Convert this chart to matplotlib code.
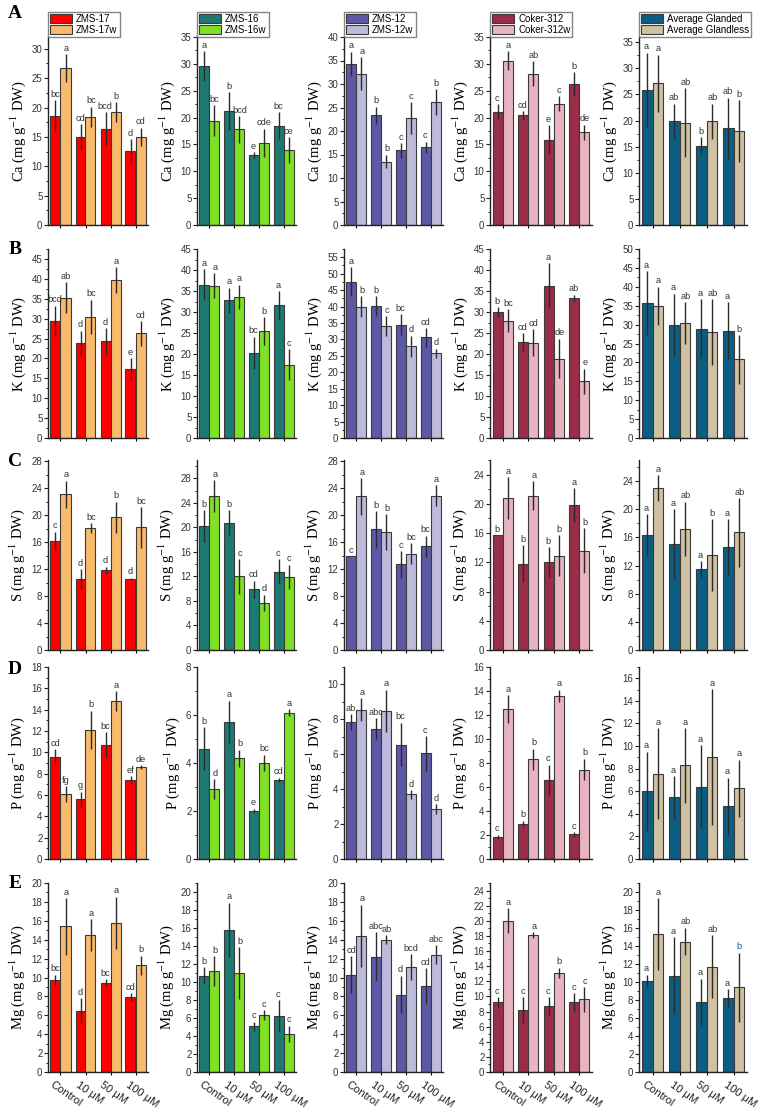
import matplotlib
matplotlib.use('Agg')
import matplotlib.pyplot as plt
import matplotlib.transforms as mtrans
from matplotlib.ticker import MultipleLocator, AutoMinorLocator

plt.rcParams['font.family'] = ['Liberation Sans', 'DejaVu Sans']
plt.rcParams['mathtext.fontset'] = 'stix'

treatments = ['Control', '10 μM', '50 μM', '100 μM']
names_g = ['ZMS-17', 'ZMS-16', 'ZMS-12', 'Coker-312', 'Average Glanded']
names_w = ['ZMS-17w', 'ZMS-16w', 'ZMS-12w', 'Coker-312w', 'Average Glandless']
colors_g = ['#ff0000', '#1d7a72', '#5e59a6', '#9a2d48', '#0b5e82']
colors_w = ['#f8bb6c', '#80e022', '#bdbadc', '#e8b4c2', '#cfc1a1']
elements = ['Ca', 'K', 'S', 'P', 'Mg']
panels = ['A', 'B', 'C', 'D', 'E']

# ---- Ca ----
ca_g = [[18.6, 15.0, 16.4, 12.6], [29.6, 21.2, 13.0, 18.5], [34.3, 23.3, 15.9, 16.5],
        [21.1, 20.4, 15.9, 26.3], [25.9, 19.9, 15.2, 18.5]]
ca_g_err = [[2.6, 2.2, 2.8, 2.05], [2.8, 3.5, 0.6, 2.45], [2.55, 1.85, 1.55, 1.2],
            [1.4, 0.8, 2.7, 2.2], [7.1, 3.35, 1.6, 5.85]]
ca_w = [[26.7, 18.4, 19.2, 15.0], [19.4, 17.8, 15.3, 14.0], [32.2, 13.5, 22.8, 26.1],
        [30.6, 28.2, 22.6, 17.3], [27.1, 19.6, 19.9, 18.0]]
ca_w_err = [[2.4, 1.75, 1.75, 1.55], [2.9, 2.5, 2.6, 2.4], [3.55, 1.45, 3.35, 2.75],
            [1.8, 2.35, 1.35, 1.4], [5.5, 6.6, 3.35, 5.85]]
ca_g_let = [['bc', 'cd', 'bcd', 'd'], ['a', 'b', 'e', 'bc'], ['a', 'b', 'c', 'c'],
            ['c', 'cd', 'e', 'b'], ['a', 'ab', 'b', 'ab']]
ca_w_let = [['a', 'bc', 'b', 'cd'], ['bc', 'bcd', 'cde', 'ce'], ['a', 'b', 'c', 'b'],
            ['a', 'ab', 'c', 'de'], ['a', 'ab', 'ab', 'b']]

# ---- K ----
k_g = [[29.5, 23.8, 24.3, 17.4], [36.5, 32.8, 20.3, 31.6], [47.5, 40.2, 34.5, 30.6],
       [30.0, 22.8, 36.3, 33.3], [35.7, 29.9, 28.9, 28.4]]
k_g_err = [[3.8, 3.15, 3.35, 2.6], [3.65, 3.0, 3.8, 3.4], [4.4, 3.0, 3.2, 2.85],
           [1.1, 2.2, 5.25, 0.8], [8.4, 8.3, 7.85, 7.45]]
k_w = [[35.3, 30.5, 39.7, 26.3], [36.3, 33.6, 25.5, 17.5], [40.0, 34.0, 27.9, 25.8],
       [27.9, 22.7, 18.9, 13.5], [35.0, 30.4, 28.0, 20.8]]
k_w_err = [[3.8, 4.25, 3.25, 3.1], [2.9, 2.9, 3.25, 3.65], [3.2, 3.05, 3.2, 1.4],
           [2.75, 3.25, 4.7, 3.0], [5.05, 5.6, 8.8, 6.45]]
k_g_let = [['bcd', 'd', 'd', 'e'], ['a', 'a', 'bc', 'a'], ['a', 'b', 'bc', 'cd'],
           ['b', 'cd', 'a', 'ab'], ['a', 'a', 'a', 'a']]
k_w_let = [['ab', 'bc', 'a', 'cd'], ['a', 'a', 'b', 'c'], ['b', 'c', 'd', 'd'],
           ['bc', 'cd', 'de', 'e'], ['a', 'ab', 'ab', 'b']]

# ---- S ----
s_g = [[16.2, 10.5, 11.8, 10.6], [20.2, 20.7, 9.9, 12.8], [13.9, 17.9, 12.7, 15.4],
       [15.7, 11.8, 12.0, 19.8], [16.4, 15.1, 11.5, 14.6]]
s_g_err = [[1.35, 1.5, 0.55, 0.15], [2.65, 2.1, 1.4, 2.05], [0.0, 2.7, 2.0, 1.55],
           [0.0, 2.55, 2.05, 2.35], [2.9, 4.95, 1.15, 3.95]]
s_w = [[23.1, 18.1, 19.7, 18.2], [25.1, 12.0, 7.7, 11.9], [22.8, 17.5, 14.3, 22.9],
       [20.8, 21.1, 12.9, 13.6], [23.0, 17.2, 13.5, 16.7]]
s_w_err = [[2.0, 0.7, 2.3, 3.0], [2.65, 2.85, 1.35, 2.0], [2.7, 2.65, 1.55, 1.6],
           [2.85, 2.0, 2.8, 3.1], [1.85, 3.9, 5.05, 4.85]]
s_g_let = [['c', 'd', 'd', 'd'], ['b', 'b', 'cd', 'c'], ['c', 'b', 'c', 'bc'],
           ['b', 'b', 'b', 'a'], ['a', 'a', 'a', 'a']]
s_w_let = [['a', 'bc', 'b', 'bc'], ['a', 'c', 'd', 'c'], ['a', 'b', 'bc', 'a'],
           ['a', 'a', 'b', 'b'], ['a', 'ab', 'b', 'ab']]

# ---- P ----
p_g = [[9.6, 5.6, 10.7, 7.4], [4.6, 5.7, 2.0, 3.3], [7.85, 7.45, 6.55, 6.05],
       [1.85, 2.95, 6.6, 2.05], [6.0, 5.45, 6.4, 4.65]]
p_g_err = [[0.7, 0.7, 1.2, 0.35], [0.9, 0.9, 0.1, 0.08], [0.45, 0.6, 1.25, 1.0],
           [0.18, 0.25, 1.25, 0.2], [3.5, 1.9, 3.65, 2.55]]
p_w = [[6.1, 12.1, 14.8, 8.6], [2.9, 4.2, 4.0, 6.1], [8.55, 8.5, 3.7, 2.85],
       [12.5, 8.3, 13.6, 7.45], [7.55, 8.3, 9.05, 6.25]]
p_w_err = [[0.75, 1.8, 0.95, 0.2], [0.42, 0.35, 0.35, 0.15], [0.65, 1.2, 0.25, 0.3],
           [1.15, 0.9, 0.5, 0.9], [4.05, 3.3, 6.0, 2.55]]
p_g_let = [['cd', 'g', 'bc', 'ef'], ['b', 'a', 'e', 'cd'], ['ab', 'abc', 'bc', 'c'],
           ['c', 'b', 'c', 'c'], ['a', 'a', 'a', 'a']]
p_w_let = [['fg', 'b', 'a', 'de'], ['d', 'b', 'bc', 'a'], ['a', 'a', 'd', 'd'],
           ['a', 'b', 'a', 'b'], ['a', 'a', 'a', 'a']]

# ---- Mg ----
mg_g = [[9.7, 6.5, 9.45, 7.95], [10.7, 15.8, 5.1, 6.25], [10.3, 12.2, 8.2, 9.1],
        [9.2, 8.2, 8.7, 9.2], [10.1, 10.7, 7.8, 8.2]]
mg_g_err = [[0.6, 1.3, 0.35, 0.4], [0.95, 3.0, 0.5, 1.7], [1.95, 2.6, 2.0, 1.9],
            [0.7, 1.7, 1.2, 1.2], [0.7, 4.25, 2.55, 1.0]]
mg_w = [[15.4, 14.5, 15.8, 11.3], [11.25, 11.0, 6.3, 4.25], [14.4, 14.0, 11.1, 12.4],
        [20.0, 18.1, 13.1, 9.6], [15.3, 14.5, 11.7, 9.4]]
mg_w_err = [[3.0, 1.65, 2.75, 1.0], [1.65, 2.85, 0.55, 0.9], [3.3, 0.5, 1.35, 1.0],
            [1.65, 0.4, 0.7, 1.65], [4.0, 1.55, 3.5, 3.85]]
mg_g_let = [['bc', 'd', 'bc', 'cd'], ['b', 'a', 'c', 'c'], ['cd', 'abc', 'd', 'cd'],
            ['c', 'c', 'c', 'c'], ['a', 'a', 'a', 'a']]
mg_w_let = [['a', 'a', 'a', 'b'], ['b', 'b', 'c', 'c'], ['a', 'ab', 'bcd', 'abc'],
            ['a', 'a', 'b', 'c'], ['a', 'ab', 'ab', 'b']]

rows = [
    (ca_g, ca_g_err, ca_w, ca_w_err, ca_g_let, ca_w_let),
    (k_g, k_g_err, k_w, k_w_err, k_g_let, k_w_let),
    (s_g, s_g_err, s_w, s_w_err, s_g_let, s_w_let),
    (p_g, p_g_err, p_w, p_w_err, p_g_let, p_w_let),
    (mg_g, mg_g_err, mg_w, mg_w_err, mg_g_let, mg_w_let),
]

# axis limits / tick steps per row and column
ylims = [[32, 35, 40, 35, 36],
         [47.5, 45, 57.5, 45, 50],
         [28.2, 31, 28.2, 26, 27],
         [18, 8, 11, 16, 17],
         [20, 21, 20, 25, 21]]
ysteps = [5, 5, 4, 2, 2]

# layout in pixels (figure is 761 x 1109)
W, H = 761, 1109
col_px = [(48, 148), (197, 296), (344, 443), (490, 592), (639, 747)]
row_px = [(37, 225), (249, 438), (460, 650), (667, 859), (883, 1072)]
panel_y = [14, 250, 462, 670, 883]

fig = plt.figure(figsize=(W / 100, H / 100), dpi=100)

bw = 0.4
err_kw = dict(ecolor='#2a2a2a', elinewidth=1.0, capsize=0)
edge = '#3a3a3a'

for r in range(5):
    g, ge, w, we, gl, wl = rows[r]
    top, bot = row_px[r]
    for c in range(5):
        left, right = col_px[c]
        ax = fig.add_axes([left / W, 1 - bot / H, (right - left) / W, (bot - top) / H])
        x = list(range(4))
        xg = [i - bw / 2 for i in x]
        xw = [i + bw / 2 for i in x]
        ax.bar(xg, g[c], bw, color=colors_g[c], edgecolor=edge, linewidth=0.8,
               yerr=ge[c], error_kw=err_kw, label=names_g[c], zorder=2)
        ax.bar(xw, w[c], bw, color=colors_w[c], edgecolor=edge, linewidth=0.8,
               yerr=we[c], error_kw=err_kw, label=names_w[c], zorder=2)
        for i in range(4):
            ax.annotate(gl[c][i], (xg[i], g[c][i] + ge[c][i]), xytext=(-0.3, 1),
                        textcoords='offset points', ha='center', va='bottom',
                        fontsize=6.7, color='#333333')
            lc = '#1f5fa8' if (r == 4 and c == 4 and i == 3) else '#333333'
            ax.annotate(wl[c][i], (xw[i], w[c][i] + we[c][i]), xytext=(0.3, 1),
                        textcoords='offset points', ha='center', va='bottom',
                        fontsize=6.7, color=lc)

        ax.set_xlim(-0.5, 3.5)
        ax.set_ylim(0, ylims[r][c])
        ax.yaxis.set_major_locator(MultipleLocator(ysteps[r]))
        ax.yaxis.set_minor_locator(AutoMinorLocator(2))
        for s in ['top', 'right']:
            ax.spines[s].set_visible(False)
        for s in ['left', 'bottom']:
            ax.spines[s].set_linewidth(1.0)
            ax.spines[s].set_color('#222222')
        ax.tick_params(axis='y', which='major', length=3, width=0.8, labelsize=7,
                       pad=1, colors='#222222', labelcolor='#333333')
        ax.tick_params(axis='y', which='minor', length=1.8, width=0.6)
        ax.set_xticks(x)
        ax.tick_params(axis='x', length=2, width=0.8)
        if r == 4:
            ax.set_xticklabels(treatments, rotation=-35, ha='left', va='top',
                               fontsize=8, color='#222222')
            off = mtrans.ScaledTranslation(-12 / 100, 0, fig.dpi_scale_trans)
            for lab in ax.get_xticklabels():
                lab.set_transform(lab.get_transform() + off)
        else:
            ax.set_xticklabels([])
        ax.set_ylabel(elements[r] + r' (mg g$^{-1}$ DW)', family='Liberation Serif',
                      fontsize=10.5, labelpad=3)

        if r == 0:
            ax.legend(loc='lower left', bbox_to_anchor=(0, 1), borderaxespad=0,
                      fontsize=7, frameon=True, fancybox=False, edgecolor='#666666',
                      handlelength=2.3, handleheight=1.0, handletextpad=0.4,
                      labelspacing=0.15, borderpad=0.2)

    fig.text(15 / W, 1 - panel_y[r] / H, panels[r], family='Liberation Serif',
             fontweight='bold', fontsize=14, ha='center', va='center')

fig.savefig('out.png', dpi=100)
